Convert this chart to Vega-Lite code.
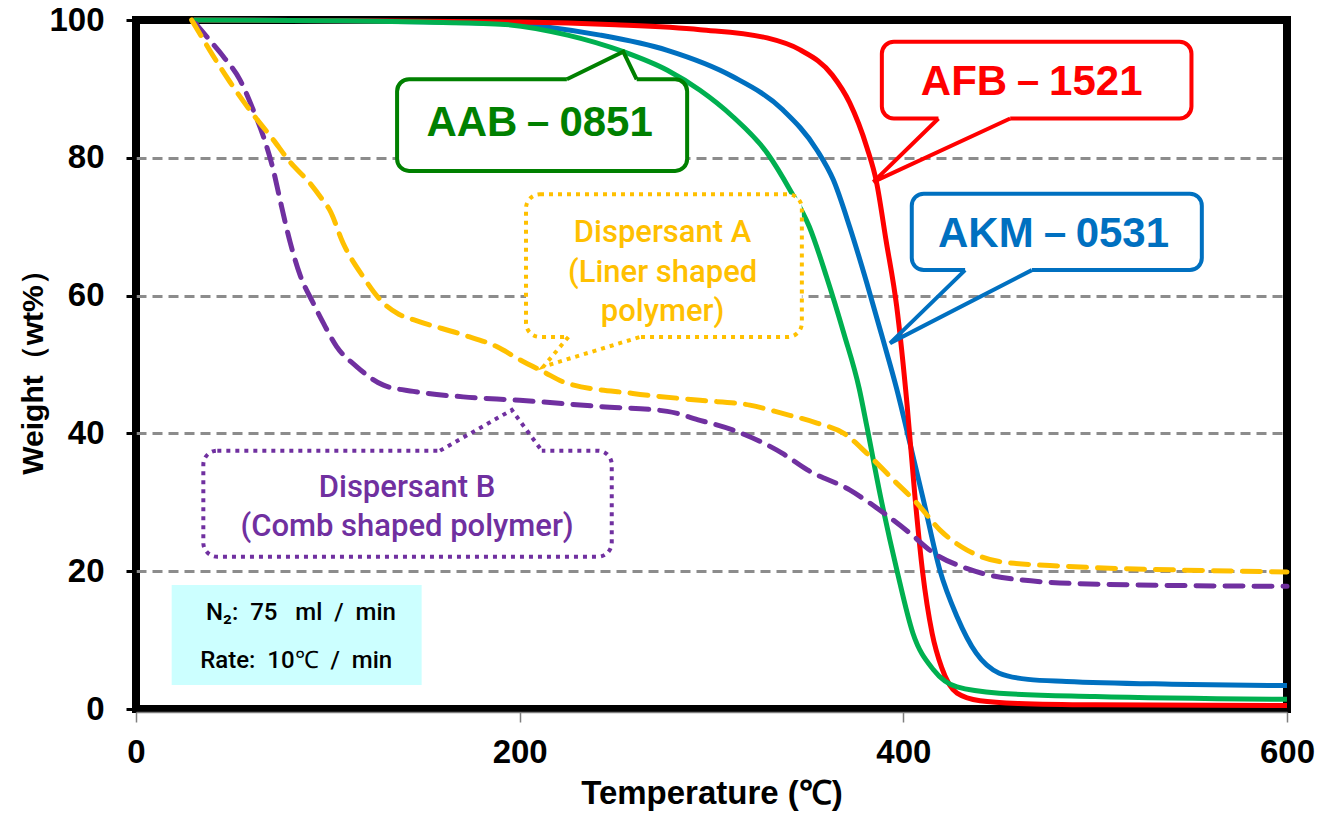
{
  "$schema": "https://vega.github.io/schema/vega-lite/v6.json",
  "width": 1151,
  "height": 689,
  "autosize": {"type": "none"},
  "padding": {"left": 136, "top": 20, "right": 47, "bottom": 105},
  "background": "white",
  "config": {
    "view": {"stroke": "black", "strokeWidth": 8},
    "font": "Liberation Sans"
  },
  "datasets": {
    "curves": [
      {"s": "AFB", "T": 30, "W": 100}, {"s": "AFB", "T": 100, "W": 99.9}, {"s": "AFB", "T": 200, "W": 99.7}, {"s": "AFB", "T": 250, "W": 99.3}, {"s": "AFB", "T": 294, "W": 98.6}, {"s": "AFB", "T": 329, "W": 97.4}, {"s": "AFB", "T": 346, "W": 95.7}, {"s": "AFB", "T": 363, "W": 92}, {"s": "AFB", "T": 372, "W": 88}, {"s": "AFB", "T": 381, "W": 81.5}, {"s": "AFB", "T": 386, "W": 76.5}, {"s": "AFB", "T": 391, "W": 68}, {"s": "AFB", "T": 396.5, "W": 58.5}, {"s": "AFB", "T": 402, "W": 44}, {"s": "AFB", "T": 406, "W": 31}, {"s": "AFB", "T": 410, "W": 20}, {"s": "AFB", "T": 415, "W": 11}, {"s": "AFB", "T": 420, "W": 6}, {"s": "AFB", "T": 428, "W": 2.3}, {"s": "AFB", "T": 440, "W": 1.2}, {"s": "AFB", "T": 460, "W": 0.8}, {"s": "AFB", "T": 500, "W": 0.6}, {"s": "AFB", "T": 600, "W": 0.5},
      {"s": "AAB", "T": 30, "W": 100}, {"s": "AAB", "T": 100, "W": 99.9}, {"s": "AAB", "T": 150, "W": 99.7}, {"s": "AAB", "T": 190, "W": 99.4}, {"s": "AAB", "T": 225, "W": 97.8}, {"s": "AAB", "T": 254, "W": 95.4}, {"s": "AAB", "T": 277, "W": 92.7}, {"s": "AAB", "T": 294, "W": 89.8}, {"s": "AAB", "T": 311, "W": 86}, {"s": "AAB", "T": 329, "W": 80.7}, {"s": "AAB", "T": 341, "W": 75.3}, {"s": "AAB", "T": 351, "W": 70}, {"s": "AAB", "T": 360, "W": 62.7}, {"s": "AAB", "T": 369, "W": 54.5}, {"s": "AAB", "T": 377, "W": 46.5}, {"s": "AAB", "T": 381, "W": 41}, {"s": "AAB", "T": 388, "W": 31}, {"s": "AAB", "T": 396.6, "W": 20.2}, {"s": "AAB", "T": 405, "W": 11}, {"s": "AAB", "T": 415.7, "W": 5.7}, {"s": "AAB", "T": 428, "W": 3.2}, {"s": "AAB", "T": 450, "W": 2.3}, {"s": "AAB", "T": 500, "W": 1.8}, {"s": "AAB", "T": 600, "W": 1.4},
      {"s": "AKM", "T": 30, "W": 100}, {"s": "AKM", "T": 100, "W": 99.9}, {"s": "AKM", "T": 190, "W": 99.5}, {"s": "AKM", "T": 242, "W": 97.8}, {"s": "AKM", "T": 277, "W": 95.6}, {"s": "AKM", "T": 311, "W": 91.8}, {"s": "AKM", "T": 337, "W": 87}, {"s": "AKM", "T": 355, "W": 81.1}, {"s": "AKM", "T": 363.5, "W": 76.8}, {"s": "AKM", "T": 372, "W": 70}, {"s": "AKM", "T": 381, "W": 61.8}, {"s": "AKM", "T": 389, "W": 54}, {"s": "AKM", "T": 396.5, "W": 46.5}, {"s": "AKM", "T": 403.5, "W": 38.5}, {"s": "AKM", "T": 410.5, "W": 30.3}, {"s": "AKM", "T": 419, "W": 20.2}, {"s": "AKM", "T": 428, "W": 13.4}, {"s": "AKM", "T": 438, "W": 8.1}, {"s": "AKM", "T": 450, "W": 5.2}, {"s": "AKM", "T": 465, "W": 4.3}, {"s": "AKM", "T": 485, "W": 4.0}, {"s": "AKM", "T": 540, "W": 3.6}, {"s": "AKM", "T": 600, "W": 3.4},
      {"s": "DA", "T": 29, "W": 100}, {"s": "DA", "T": 35, "W": 97.2}, {"s": "DA", "T": 42, "W": 94}, {"s": "DA", "T": 49, "W": 91}, {"s": "DA", "T": 59.4, "W": 86.9}, {"s": "DA", "T": 71.6, "W": 82.6}, {"s": "DA", "T": 80, "W": 79.5}, {"s": "DA", "T": 90.7, "W": 76.3}, {"s": "DA", "T": 97, "W": 74}, {"s": "DA", "T": 101, "W": 72.4}, {"s": "DA", "T": 108, "W": 67.6}, {"s": "DA", "T": 118.5, "W": 62.7}, {"s": "DA", "T": 129, "W": 58.9}, {"s": "DA", "T": 137, "W": 57.3}, {"s": "DA", "T": 144.6, "W": 56.5}, {"s": "DA", "T": 170.6, "W": 54.3}, {"s": "DA", "T": 188, "W": 52.6}, {"s": "DA", "T": 200, "W": 50.7}, {"s": "DA", "T": 212, "W": 49}, {"s": "DA", "T": 224.5, "W": 47.3}, {"s": "DA", "T": 259, "W": 45.8}, {"s": "DA", "T": 294, "W": 44.8}, {"s": "DA", "T": 320, "W": 44.1}, {"s": "DA", "T": 337, "W": 42.9}, {"s": "DA", "T": 355, "W": 41.5}, {"s": "DA", "T": 369, "W": 40}, {"s": "DA", "T": 381, "W": 37.1}, {"s": "DA", "T": 395, "W": 33.2}, {"s": "DA", "T": 407, "W": 29.9}, {"s": "DA", "T": 419, "W": 26}, {"s": "DA", "T": 433, "W": 23.1}, {"s": "DA", "T": 450, "W": 21.4}, {"s": "DA", "T": 485, "W": 20.7}, {"s": "DA", "T": 540, "W": 20.2}, {"s": "DA", "T": 600, "W": 19.9},
      {"s": "DB", "T": 31, "W": 99.5}, {"s": "DB", "T": 38, "W": 97.2}, {"s": "DB", "T": 45.5, "W": 94.7}, {"s": "DB", "T": 54.2, "W": 91.3}, {"s": "DB", "T": 61.2, "W": 86.9}, {"s": "DB", "T": 66.4, "W": 83.1}, {"s": "DB", "T": 71.6, "W": 78.2}, {"s": "DB", "T": 75, "W": 74}, {"s": "DB", "T": 80.3, "W": 67.8}, {"s": "DB", "T": 85.5, "W": 63}, {"s": "DB", "T": 92.4, "W": 58.9}, {"s": "DB", "T": 97.7, "W": 56}, {"s": "DB", "T": 104.6, "W": 52.6}, {"s": "DB", "T": 115, "W": 49.7}, {"s": "DB", "T": 129, "W": 47}, {"s": "DB", "T": 144.6, "W": 46.1}, {"s": "DB", "T": 170.6, "W": 45.3}, {"s": "DB", "T": 200, "W": 44.8}, {"s": "DB", "T": 242, "W": 43.9}, {"s": "DB", "T": 277, "W": 43.2}, {"s": "DB", "T": 294, "W": 41.9}, {"s": "DB", "T": 311, "W": 40.5}, {"s": "DB", "T": 337, "W": 37.1}, {"s": "DB", "T": 350, "W": 34.7}, {"s": "DB", "T": 372, "W": 31.8}, {"s": "DB", "T": 390, "W": 28.4}, {"s": "DB", "T": 403.5, "W": 25.5}, {"s": "DB", "T": 416, "W": 22.6}, {"s": "DB", "T": 433, "W": 20.4}, {"s": "DB", "T": 459, "W": 18.8}, {"s": "DB", "T": 503, "W": 18.1}, {"s": "DB", "T": 600, "W": 17.8}
    ],
    "boxes": [
      {"id": "AAB", "T": 136.1, "T2": 287.3, "W": 78.1, "W2": 91.4},
      {"id": "AFB", "T": 388.8, "T2": 550.2, "W": 85.7, "W2": 96.85},
      {"id": "AKM", "T": 404.4, "T2": 555.6, "W": 63.7, "W2": 74.8},
      {"id": "DA", "T": 203.3, "T2": 347.1, "W": 54.0, "W2": 74.7},
      {"id": "DB", "T": 35.1, "T2": 248, "W": 22.1, "W2": 37.5}
    ],
    "pointers": [
      {"id": "AAB", "i": 0, "T": 224.6, "W": 91.4}, {"id": "AAB", "i": 1, "T": 254, "W": 95.4}, {"id": "AAB", "i": 2, "T": 261, "W": 91.4},
      {"id": "AFB", "i": 0, "T": 418.3, "W": 85.7}, {"id": "AFB", "i": 1, "T": 384.4, "W": 76.5}, {"id": "AFB", "i": 2, "T": 455.7, "W": 85.7},
      {"id": "AKM", "i": 0, "T": 432.2, "W": 63.7}, {"id": "AKM", "i": 1, "T": 393.1, "W": 53.1}, {"id": "AKM", "i": 2, "T": 467, "W": 63.7},
      {"id": "DA", "i": 0, "T": 225.4, "W": 54.0}, {"id": "DA", "i": 1, "T": 212.4, "W": 49.7}, {"id": "DA", "i": 2, "T": 262.8, "W": 54.0},
      {"id": "DB", "i": 0, "T": 158.5, "W": 37.5}, {"id": "DB", "i": 1, "T": 195.9, "W": 43.4}, {"id": "DB", "i": 2, "T": 211.5, "W": 37.5}
    ],
    "names": [
      {"id": "AAB", "T": 210.4, "W": 85.0, "text": "AAB－0851"},
      {"id": "AFB", "T": 466.9, "W": 91.0, "text": "AFB－1521"},
      {"id": "AKM", "T": 478.3, "W": 69.0, "text": "AKM－0531"}
    ],
    "notes": [
      {"id": "DA", "T": 274.5, "W": 69.1, "text": "Dispersant A"},
      {"id": "DA", "T": 274.5, "W": 63.3, "text": "(Liner shaped"},
      {"id": "DA", "T": 274.5, "W": 57.6, "text": "polymer)"},
      {"id": "DB", "T": 141.3, "W": 32.1, "text": "Dispersant B"},
      {"id": "DB", "T": 141.3, "W": 26.4, "text": "(Comb shaped polymer)"}
    ],
    "infobox": [{"T": 18.6, "T2": 148.9, "W": 3.5, "W2": 18.0}],
    "infotext": [
      {"T": 86, "W": 13.9, "text": "N₂:\u00a0\u00a075\u00a0\u00a0\u00a0ml\u00a0\u00a0/\u00a0\u00a0min"},
      {"T": 83.5, "W": 6.9, "text": "Rate:\u00a0\u00a010℃\u00a0\u00a0/\u00a0\u00a0min"}
    ]
  },
  "encoding": {
    "x": {
      "field": "T", "type": "quantitative",
      "scale": {"domain": [0, 600], "nice": false, "zero": false},
      "axis": {
        "title": "Temperature (℃)", "values": [0, 200, 400, 600], "grid": false,
        "domain": true, "domainColor": "#7f7f7f", "domainWidth": 1.5, "offset": 3,
        "tickColor": "#7f7f7f", "tickWidth": 1.5, "tickSize": 10,
        "labelFontSize": 33, "labelFontWeight": "bold", "labelColor": "black", "labelPadding": 14, "labelFlush": false,
        "titleFontSize": 33, "titleFontWeight": "bold", "titleColor": "black", "titlePadding": 8
      }
    },
    "y": {
      "field": "W", "type": "quantitative",
      "scale": {"domain": [0, 100], "nice": false},
      "axis": {
        "title": "Weight（wt%）", "values": [0, 20, 40, 60, 80, 100],
        "grid": true, "gridDash": [10, 6], "gridColor": "#8c8c8c", "gridWidth": 3,
        "gridOpacity": {"condition": {"test": "datum.value == 0 || datum.value == 100", "value": 0}, "value": 1},
        "domain": false, "tickColor": "black", "tickWidth": 3, "tickSize": 10,
        "labelFontSize": 33, "labelFontWeight": "bold", "labelColor": "black", "labelPadding": 22,
        "titleFontSize": 30, "titleFontWeight": "bold", "titleColor": "black", "titlePadding": 0
      }
    }
  },
  "layer": [
    {
      "data": {"name": "infobox"},
      "mark": {"type": "rect", "fill": "#CCFFFF"},
      "encoding": {"x2": {"field": "T2"}, "y2": {"field": "W2"}}
    },
    {
      "data": {"name": "infotext"},
      "mark": {"type": "text", "font": "Roboto", "fontWeight": 500, "fontSize": 24, "color": "black", "align": "center", "baseline": "middle"},
      "encoding": {"text": {"field": "text"}}
    },
    {
      "data": {"name": "curves"},
      "transform": [{"filter": "datum.s == 'AKM'"}],
      "mark": {"type": "line", "color": "#0070C0", "strokeWidth": 5, "interpolate": "monotone"}
    },
    {
      "data": {"name": "curves"},
      "transform": [{"filter": "datum.s == 'AFB'"}],
      "mark": {"type": "line", "color": "#FF0000", "strokeWidth": 5, "interpolate": "monotone"}
    },
    {
      "data": {"name": "curves"},
      "transform": [{"filter": "datum.s == 'AAB'"}],
      "mark": {"type": "line", "color": "#00B050", "strokeWidth": 5, "interpolate": "monotone"}
    },
    {
      "data": {"name": "curves"},
      "transform": [{"filter": "datum.s == 'DB'"}],
      "mark": {"type": "line", "color": "#7030A0", "strokeWidth": 5, "strokeDash": [18, 11], "strokeCap": "round", "interpolate": "monotone"}
    },
    {
      "data": {"name": "curves"},
      "transform": [{"filter": "datum.s == 'DA'"}],
      "mark": {"type": "line", "color": "#FFC000", "strokeWidth": 5, "strokeDash": [18, 11], "strokeCap": "round", "interpolate": "monotone"}
    },
    {
      "data": {"name": "boxes"},
      "transform": [{"filter": "datum.id == 'AAB' || datum.id == 'AFB' || datum.id == 'AKM'"}],
      "mark": {"type": "rect", "fill": "white", "strokeWidth": 4, "cornerRadius": 12},
      "encoding": {
        "x2": {"field": "T2"}, "y2": {"field": "W2"},
        "stroke": {"field": "id", "type": "nominal", "scale": {"domain": ["AAB", "AFB", "AKM", "DA", "DB"], "range": ["#008000", "#FF0000", "#0070C0", "#FFC000", "#7030A0"]}, "legend": null}
      }
    },
    {
      "data": {"name": "boxes"},
      "transform": [{"filter": "datum.id == 'DA' || datum.id == 'DB'"}],
      "mark": {"type": "rect", "fill": "white", "strokeWidth": 4, "cornerRadius": 14, "strokeDash": [4, 5]},
      "encoding": {
        "x2": {"field": "T2"}, "y2": {"field": "W2"},
        "stroke": {"field": "id", "type": "nominal", "legend": null}
      }
    },
    {
      "data": {"name": "pointers"},
      "transform": [{"filter": "datum.i != 1"}],
      "mark": {"type": "line", "color": "white", "strokeWidth": 7, "strokeCap": "butt"},
      "encoding": {"detail": {"field": "id"}, "order": {"field": "i"}}
    },
    {
      "data": {"name": "pointers"},
      "transform": [{"filter": "datum.id == 'AAB' || datum.id == 'AFB' || datum.id == 'AKM'"}],
      "mark": {"type": "line", "strokeWidth": 4, "strokeJoin": "miter"},
      "encoding": {
        "order": {"field": "i"},
        "stroke": {"field": "id", "type": "nominal", "legend": null}
      }
    },
    {
      "data": {"name": "pointers"},
      "transform": [{"filter": "datum.id == 'DA' || datum.id == 'DB'"}],
      "mark": {"type": "line", "strokeWidth": 4, "strokeJoin": "miter", "strokeDash": [4, 5]},
      "encoding": {
        "order": {"field": "i"},
        "stroke": {"field": "id", "type": "nominal", "legend": null}
      }
    },
    {
      "data": {"name": "names"},
      "mark": {"type": "text", "fontSize": 42, "fontWeight": "bold", "align": "center", "baseline": "middle"},
      "encoding": {
        "text": {"field": "text"},
        "fill": {"field": "id", "type": "nominal", "scale": {"domain": ["AAB", "AFB", "AKM", "DA", "DB"], "range": ["#008000", "#FF0000", "#0070C0", "#FFC000", "#7030A0"]}, "legend": null}
      }
    },
    {
      "data": {"name": "notes"},
      "mark": {"type": "text", "font": "Roboto", "fontWeight": 500, "fontSize": 31, "align": "center", "baseline": "middle"},
      "encoding": {
        "text": {"field": "text"},
        "fill": {"field": "id", "type": "nominal", "legend": null}
      }
    }
  ]
}
